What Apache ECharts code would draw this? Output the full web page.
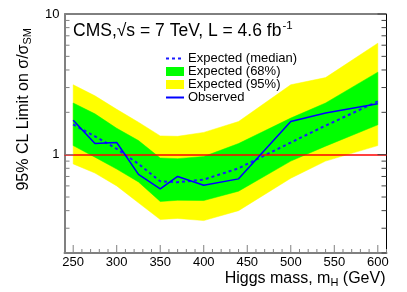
<!DOCTYPE html>
<html>
<head>
<meta charset="utf-8">
<script src="https://cdn.jsdelivr.net/npm/echarts@6/dist/echarts.min.js"></script>
<style>
html,body{margin:0;padding:0;background:#fff;}
#chart{width:407px;height:292px;}
</style>
</head>
<body>
<div id="chart"></div>
<script>
// ---- data ----
const masses    = [250, 275, 300, 325, 350, 370, 400, 440, 500, 540, 600];
const exp95lo   = [0.86, 0.74, 0.60, 0.455, 0.346, 0.352, 0.34, 0.40, 0.68, 0.90, 1.16];
const exp68lo   = [1.16, 0.96, 0.79, 0.64, 0.465, 0.474, 0.472, 0.55, 0.90, 1.15, 1.63];
const expMedian = [1.64, 1.35, 1.10, 0.86, 0.647, 0.637, 0.665, 0.80, 1.22, 1.61, 2.39];
const exp68hi   = [2.33, 1.95, 1.54, 1.26, 0.947, 0.937, 0.97, 1.20, 1.82, 2.33, 3.86];
const exp95hi   = [3.14, 2.62, 2.10, 1.70, 1.36, 1.35, 1.44, 1.72, 3.14, 3.53, 6.20];
const observed  = [1.76, 1.20, 1.22, 0.725, 0.571, 0.70, 0.606, 0.673, 1.72, 1.98, 2.30];

const xTickMajor = [250, 300, 350, 400, 450, 500, 550, 600];
const xTickMinor = [240, 260, 270, 280, 290, 310, 320, 330, 340, 360, 370, 380, 390, 410, 420, 430, 440, 460, 470, 480, 490, 510, 520, 530, 540, 560, 570, 580, 590, 610];
const yTickMajor = [1, 10];
const yTickMinor = [0.2, 0.3, 0.4, 0.5, 0.6, 0.7, 0.8, 0.9, 2, 3, 4, 5, 6, 7, 8, 9];
const yLabels = [1, 10];

const X_MIN = 240, X_MAX = 610, Y_MIN = 0.2, Y_MAX = 10;
const FONT = '"Liberation Sans", Arial, Helvetica, sans-serif';

const pairs = arr => masses.map((m, i) => [m, arr[i]]);

const chart = echarts.init(document.getElementById('chart'), null, {renderer: 'canvas'});

// band drawn as one polygon through the library's coordinate system
function bandSeries(name, lo, hi, color, z) {
  const data = masses.map((m, i) => [m, lo[i], hi[i]]);
  return {
    name: name, type: 'custom', silent: true, z: z, clip: true,
    itemStyle: {color: color},
    encode: {x: 0, y: [1, 2]},
    data: data,
    renderItem: function (params, api) {
      if (params.dataIndex !== 0) return null;
      const upper = data.map(d => api.coord([d[0], d[2]]));
      const lower = data.map(d => api.coord([d[0], d[1]])).reverse();
      return {type: 'polygon', shape: {points: upper.concat(lower)},
              style: {fill: color, stroke: color, lineWidth: 0.5}};
    }
  };
}

function tickSeries(data, axis) {
  return {
    type: 'custom', silent: true, z: 6, clip: false,
    data: data,
    renderItem: function (params, api) {
      const cs = params.coordSys;
      const major = api.value(2) === 1;
      if (axis === 'x') {
        const p = api.coord([api.value(0), Y_MIN]);
        const len = major ? 8 : 4;
        const yb = cs.y + cs.height;
        return {type: 'line', shape: {x1: p[0], y1: yb, x2: p[0], y2: yb - len},
                style: {stroke: '#808080', lineWidth: 1}};
      } else {
        const p = api.coord([X_MIN, api.value(1)]);
        const len = major ? 9 : 5;
        const xl = cs.x, xr = cs.x + cs.width;
        return {type: 'group', children: [
          {type: 'line', shape: {x1: xl, y1: p[1], x2: xl + len, y2: p[1]}, style: {stroke: '#808080', lineWidth: 1}},
          {type: 'line', shape: {x1: xr, y1: p[1], x2: xr - len, y2: p[1]}, style: {stroke: '#404040', lineWidth: 1}}
        ]};
      }
    }
  };
}

const option = {
  animation: false,
  backgroundColor: '#ffffff',
  textStyle: {fontFamily: FONT},
  grid: {left: 64.5, right: 20.5, top: 14, bottom: 39, show: true, borderColor: '#000', borderWidth: 1, backgroundColor: 'transparent'},
  legend: {
    orient: 'vertical', left: 165, top: 52, padding: 0, itemGap: 0,
    itemWidth: 18, itemHeight: 9, selectedMode: false,
    textStyle: {fontFamily: FONT, fontSize: 13, color: '#000', lineHeight: 11, padding: [0, 0, 0, -1]},
    data: [
      {name: 'Expected (median)', itemStyle: {opacity: 0}},
      {name: 'Expected (68%)', icon: 'rect', itemStyle: {color: '#00ff00'}},
      {name: 'Expected (95%)', icon: 'rect', itemStyle: {color: '#ffff00'}},
      {name: 'Observed', itemStyle: {opacity: 0}}
    ]
  },
  xAxis: {
    type: 'value', min: X_MIN, max: X_MAX, interval: 10,
    axisLine: {lineStyle: {color: '#808080', width: 2}},
    axisTick: {show: false}, splitLine: {show: false},
    axisLabel: {fontFamily: FONT, fontSize: 13, color: '#000', margin: 3,
      formatter: v => (xTickMajor.indexOf(v) >= 0 ? String(v) : '')},
    name: 'Higgs mass, m{sub|H} (GeV)', nameLocation: 'end', nameGap: -1,
    nameTextStyle: {fontFamily: FONT, fontSize: 16, color: '#000', align: 'right', verticalAlign: 'top', padding: [16, 0, 0, 0],
      rich: {sub: {fontFamily: FONT, fontSize: 11, padding: [8, 0, 0, 0]}}}
  },
  yAxis: {
    type: 'log', logBase: 10, min: Y_MIN, max: Y_MAX,
    axisLine: {lineStyle: {color: '#808080', width: 2}},
    axisTick: {show: false}, splitLine: {show: false}, minorTick: {show: false},
    axisLabel: {fontFamily: FONT, fontSize: 13, color: '#000', margin: 5,
      showMinLabel: false,
      formatter: v => {
        for (const l of yLabels) { if (Math.abs(v - l) < 1e-6 * l) return String(l); }
        return '';
      }}
  },
  graphic: [
    {type: 'text', left: 73, top: 20, z: 10,
      style: {text: 'CMS,\u221As = 7 TeV, L = 4.6 fb{sup|-1}', fontFamily: FONT, fontSize: 17.5, fill: '#000',
        rich: {sup: {fontFamily: FONT, fontSize: 11.5, fill: '#000', padding: [0, 0, 10, 1]}}}},
    {type: 'text', x: 24, y: 28, rotation: Math.PI / 2, z: 10,
      style: {text: '95% CL Limit on \u03C3/\u03C3{sub|SM}', fontFamily: FONT, fontSize: 16, fill: '#000',
        align: 'right', verticalAlign: 'middle',
        rich: {sub: {fontFamily: FONT, fontSize: 11, fill: '#000', padding: [8, 0, 0, 0]}}}}
  ],
  series: [
    bandSeries('Expected (95%)', exp95lo, exp95hi, '#ffff00', 1),
    bandSeries('Expected (68%)', exp68lo, exp68hi, '#00ff00', 2),
    {name: 'SM', type: 'line', data: [], silent: true, z: 3,
      markLine: {silent: true, symbol: 'none', label: {show: false},
        lineStyle: {color: '#ff0000', width: 1.5, type: 'solid'}, data: [{yAxis: 1}]}},
    {name: 'Expected (median)', type: 'line', data: pairs(expMedian), symbol: 'none', z: 4,
      itemStyle: {color: '#1a1aff'}, lineStyle: {color: '#1a1aff', width: 2, type: [3, 3]}},
    {name: 'Observed', type: 'line', data: pairs(observed), symbol: 'none', z: 5,
      itemStyle: {color: '#0000ff'}, lineStyle: {color: '#0000ff', width: 1.5}},
    tickSeries(xTickMajor.map(v => [v, Y_MIN, 1]).concat(xTickMinor.map(v => [v, Y_MIN, 0])), 'x'),
    tickSeries(yTickMajor.map(v => [X_MIN, v, 1]).concat(yTickMinor.map(v => [X_MIN, v, 0])), 'y')
  ]
};
chart.setOption(option);
</script>
</body>
</html>
